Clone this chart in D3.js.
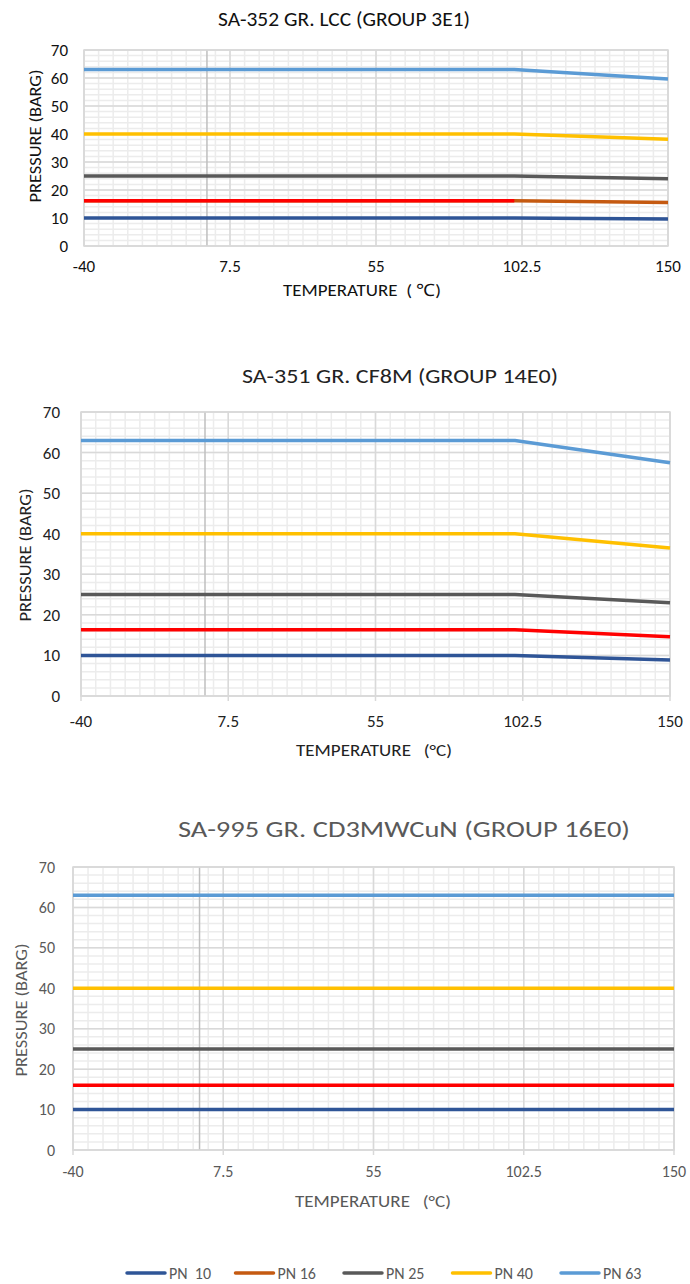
<!DOCTYPE html>
<html>
<head>
<meta charset="utf-8">
<script src="https://cdn.jsdelivr.net/npm/d3@7"></script>
<style>
  body { margin: 0; background: #fff; }
  svg { display: block; font-family: Carlito, Calibri, "Open Sans", sans-serif; }
</style>
</head>
<body>
<svg id="canvas" width="690" height="1284"></svg>
<script>
// temperatures (°C) where the ratings are given
var temps = [-40, 100, 150];
var xTicks = [-40, 7.5, 55, 102.5, 150];
var yTicks = [0, 10, 20, 30, 40, 50, 60, 70];
var seriesNames = ["PN  10", "PN 16", "PN 25", "PN 40", "PN 63"];
var seriesColors = ["#2F5597", "#C55A11", "#595959", "#FFC000", "#5B9BD5"];

// SA-352 GR. LCC (GROUP 3E1)
var lccPN10 = [10, 10, 9.6];
var lccPN16 = [16.2, 16.2, 15.5];
var lccPN25 = [25, 25, 24.0];
var lccPN40 = [40, 40, 38.1];
var lccPN63 = [63, 63, 59.6];

// SA-351 GR. CF8M (GROUP 14E0)
var cf8mPN10 = [10, 10, 8.9];
var cf8mPN16 = [16.3, 16.3, 14.6];
var cf8mPN25 = [25, 25, 23];
var cf8mPN40 = [40, 40, 36.5];
var cf8mPN63 = [63, 63, 57.5];

// SA-995 GR. CD3MWCuN (GROUP 16E0)
var cd3PN10 = [10, 10, 10];
var cd3PN16 = [16, 16, 16];
var cd3PN25 = [25, 25, 25];
var cd3PN40 = [40, 40, 40];
var cd3PN63 = [63, 63, 63];

var svg = d3.select("#canvas");

function drawChart(cfg, series) {
    var g = svg.append("g");
    var x = d3.scaleLinear().domain([-40, 150]).range([cfg.left, cfg.right]);
    var y = d3.scaleLinear().domain([0, 70]).range([cfg.bottom, cfg.top]);

    // minor grid
    g.selectAll(".mx").data(d3.range(-40, 150.01, 4.75)).enter().append("line")
        .attr("x1", x).attr("x2", x).attr("y1", cfg.top).attr("y2", cfg.bottom)
        .attr("stroke", "#ececec").attr("stroke-width", 1.5);
    g.selectAll(".my").data(d3.range(0, 70.01, 2)).enter().append("line")
        .attr("x1", cfg.left).attr("x2", cfg.right).attr("y1", y).attr("y2", y)
        .attr("stroke", "#ececec").attr("stroke-width", 1.5);

    // major grid
    g.selectAll(".gx").data(xTicks).enter().append("line")
        .attr("x1", x).attr("x2", x).attr("y1", cfg.top).attr("y2", cfg.bottom + cfg.tick)
        .attr("stroke", "#d9d9d9").attr("stroke-width", 1.5);
    g.selectAll(".gy").data(yTicks).enter().append("line")
        .attr("x1", cfg.left).attr("x2", cfg.right).attr("y1", y).attr("y2", y)
        .attr("stroke", "#d9d9d9").attr("stroke-width", 1.5);
    g.append("line")
        .attr("x1", x(0)).attr("x2", x(0)).attr("y1", cfg.top).attr("y2", cfg.bottom)
        .attr("stroke", "#bfbfbf").attr("stroke-width", 1.5);

    g.append("rect")
        .attr("x", cfg.left).attr("y", cfg.top)
        .attr("width", cfg.right - cfg.left).attr("height", cfg.bottom - cfg.top)
        .attr("fill", "none").attr("stroke", "#d9d9d9").attr("stroke-width", 1.5);

    // tick labels
    g.selectAll(".xl").data(xTicks).enter().append("text")
        .attr("x", x).attr("y", cfg.xLabelY)
        .attr("text-anchor", "middle")
        .attr("font-size", cfg.labelSize).attr("fill", cfg.textColor)
        .text(function(d) { return d; });
    g.selectAll(".yl").data(yTicks).enter().append("text")
        .attr("x", cfg.yLabelX).attr("y", y).attr("dy", "0.35em")
        .attr("text-anchor", "end")
        .attr("font-size", cfg.labelSize).attr("fill", cfg.textColor)
        .text(function(d) { return d; });

    // lines
    var line = d3.line()
        .x(function(d) { return x(d[0]); })
        .y(function(d) { return y(d[1]); });

    series.forEach(function(vals, i) {
        var pts = temps.map(function(t, j) { return [t, vals[j]]; });
        var color = seriesColors[i];
        if (i === 1) color = cfg.redFull ? "#FF0000" : seriesColors[1];
        g.append("path")
            .datum(pts)
            .attr("d", line)
            .attr("fill", "none")
            .attr("stroke", color)
            .attr("stroke-width", 3.5);
        if (i === 1 && !cfg.redFull) {
            g.append("path")
                .datum(pts.slice(0, 2))
                .attr("d", line)
                .attr("fill", "none")
                .attr("stroke", "#FF0000")
                .attr("stroke-width", 3.5);
        }
    });

    // titles
    g.append("text")
        .attr("x", cfg.titleX).attr("y", cfg.titleY)
        .attr("text-anchor", "middle")
        .attr("font-size", cfg.titleSize).attr("fill", cfg.textColor)
        .attr("textLength", cfg.titleLen).attr("lengthAdjust", "spacingAndGlyphs")
        .text(cfg.title);
    g.append("text")
        .attr("x", cfg.xTitleX).attr("y", cfg.xTitleY)
        .attr("text-anchor", "middle")
        .attr("font-size", cfg.axisTitleSize).attr("fill", cfg.textColor)
        .attr("textLength", cfg.xTitleLen).attr("lengthAdjust", "spacingAndGlyphs")
        .attr("xml:space", "preserve")
        .text(cfg.xTitle);
    g.append("text")
        .attr("transform", "translate(" + cfg.yTitleX + "," + cfg.yTitleY + ") rotate(-90)")
        .attr("text-anchor", "middle").attr("dy", "0.35em")
        .attr("font-size", cfg.axisTitleSize).attr("fill", cfg.textColor)
        .attr("textLength", 133).attr("lengthAdjust", "spacingAndGlyphs")
        .text("PRESSURE  (BARG)");
}

drawChart({
    title: "SA-352 GR. LCC (GROUP 3E1)", titleX: 344, titleY: 26, titleSize: 21, titleLen: 252,
    left: 84, right: 668, top: 50, bottom: 246, tick: 0,
    xLabelY: 272, yLabelX: 68, labelSize: 17,
    xTitle: "TEMPERATURE  ( \u2103)", xTitleX: 362, xTitleY: 296, xTitleLen: 158,
    yTitleX: 35, yTitleY: 136, axisTitleSize: 17,
    textColor: "#111", redFull: false
}, [lccPN10, lccPN16, lccPN25, lccPN40, lccPN63]);

drawChart({
    title: "SA-351 GR. CF8M (GROUP 14E0)", titleX: 400, titleY: 383, titleSize: 20, titleLen: 316,
    left: 81, right: 670, top: 412, bottom: 696, tick: 5,
    xLabelY: 727, yLabelX: 60, labelSize: 17,
    xTitle: "TEMPERATURE   (\u00B0C)", xTitleX: 374, xTitleY: 756, xTitleLen: 156,
    yTitleX: 25, yTitleY: 555, axisTitleSize: 17,
    textColor: "#222", redFull: true
}, [cf8mPN10, cf8mPN16, cf8mPN25, cf8mPN40, cf8mPN63]);

drawChart({
    title: "SA-995 GR. CD3MWCuN (GROUP 16E0)", titleX: 404, titleY: 837, titleSize: 23, titleLen: 452,
    left: 73, right: 674, top: 867, bottom: 1150, tick: 5,
    xLabelY: 1177, yLabelX: 55, labelSize: 16,
    xTitle: "TEMPERATURE   (\u00B0C)", xTitleX: 373, xTitleY: 1207, xTitleLen: 156,
    yTitleX: 21, yTitleY: 1010, axisTitleSize: 17,
    textColor: "#595959", redFull: true
}, [cd3PN10, cd3PN16, cd3PN25, cd3PN40, cd3PN63]);

// legend
var legendX = d3.scaleLinear().domain([0, 4]).range([125, 559]);
var legend = svg.append("g").selectAll("g").data(seriesNames).enter().append("g")
    .attr("transform", function(d, i) { return "translate(" + legendX(i) + ",1273)"; });
legend.append("line")
    .attr("x1", 2).attr("x2", 40).attr("y1", 0).attr("y2", 0)
    .attr("stroke", function(d, i) { return seriesColors[i]; })
    .attr("stroke-width", 3.5).attr("stroke-linecap", "round");
legend.append("text")
    .attr("x", 44).attr("y", 0).attr("dy", "0.35em")
    .attr("font-size", 16).attr("fill", "#595959")
    .attr("xml:space", "preserve")
    .text(function(d) { return d; });
</script>
</body>
</html>
